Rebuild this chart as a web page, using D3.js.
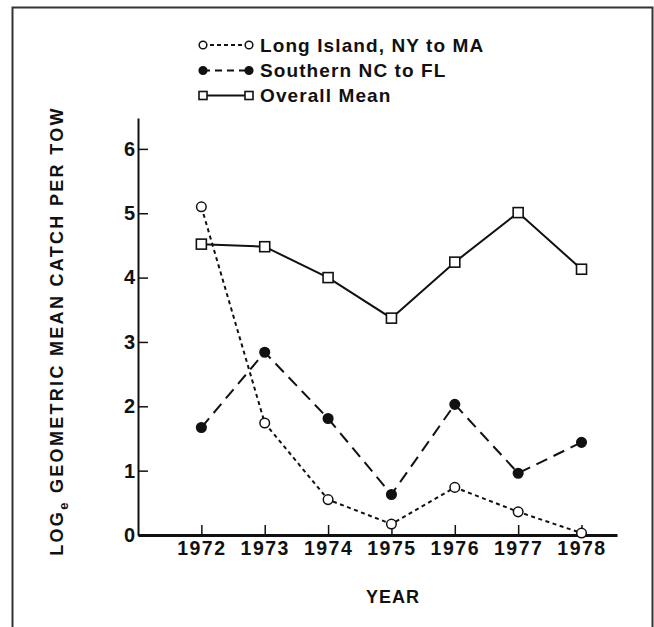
<!DOCTYPE html>
<html><head><meta charset="utf-8">
<script src="https://cdn.jsdelivr.net/npm/d3@7"></script>
<style>body{margin:0;background:#fff}svg{display:block}</style>
</head><body>
<script>
const years = [1972, 1973, 1974, 1975, 1976, 1977, 1978];
const longIsland = [5.1, 1.74, 0.55, 0.17, 0.74, 0.36, 0.03];
const southern = [1.67, 2.84, 1.81, 0.63, 2.03, 0.96, 1.44];
const overall = [4.52, 4.48, 4.0, 3.37, 4.24, 5.01, 4.13];
const yTicks = [0, 1, 2, 3, 4, 5, 6];
const seriesNames = ["Long Island, NY to MA", "Southern NC to FL", "Overall Mean"];

const W = 654, H = 627;
const FONT = "'Liberation Sans', Arial, Helvetica, sans-serif";
const svg = d3.select("body").append("svg").attr("width", W).attr("height", H);

// frame
svg.append("rect").attr("x", 12.5).attr("y", 7.5).attr("width", 640).attr("height", 640)
  .attr("fill", "none").attr("stroke", "#333").attr("stroke-width", 2);

const x = d3.scaleLinear().domain([1971, 1978.56]).range([138, 617]);
const y = d3.scaleLinear().domain([0, 6.48]).range([535, 118]);

// axes
const gx = svg.append("g").attr("transform", `translate(0,${y(0)})`)
  .call(d3.axisBottom(x).tickValues(years).tickFormat(d3.format("d")).tickSizeInner(-10).tickSizeOuter(0).tickPadding(14));
gx.select(".domain").attr("stroke", "#111").attr("stroke-width", 3);
gx.selectAll(".tick line").attr("stroke", "#111").attr("stroke-width", 1.5);
gx.selectAll(".tick text").attr("font-family", FONT).attr("font-size", 19.5).attr("font-weight", "bold")
  .attr("letter-spacing", 1.5).attr("fill", "#111").attr("dy", "0.71em").attr("y", 6);

const gy = svg.append("g").attr("transform", `translate(${x(1971)},0)`)
  .call(d3.axisLeft(y).tickValues(yTicks).tickFormat(d3.format("d")).tickSizeInner(-10).tickSizeOuter(0).tickPadding(4));
gy.select(".domain").attr("stroke", "#111").attr("stroke-width", 2);
gy.selectAll(".tick line").attr("stroke", "#111").attr("stroke-width", 1.5);
gy.selectAll(".tick text").attr("font-family", FONT).attr("font-size", 20).attr("font-weight", "bold")
  .attr("fill", "#111").attr("x", -3);

// axis titles
svg.append("text").attr("x", 393).attr("y", 603).attr("text-anchor", "middle")
  .attr("font-family", FONT).attr("font-size", 18).attr("font-weight", "bold").attr("fill", "#111")
  .attr("letter-spacing", 1).text("YEAR");
const yl = svg.append("text").attr("transform", "translate(63,331) rotate(-90)").attr("text-anchor", "middle")
  .attr("font-family", FONT).attr("font-size", 18).attr("font-weight", "bold").attr("fill", "#111")
  .attr("letter-spacing", 2.3);
yl.append("tspan").text("LOG");
yl.append("tspan").attr("font-size", 13).attr("dy", 5).text("e");
yl.append("tspan").attr("dy", -5).text(" GEOMETRIC MEAN CATCH PER TOW");

const line = d3.line().x((d, i) => x(years[i])).y(d => y(d));
const series = [
  {vals: longIsland, dash: "4,3.5", marker: "open"},
  {vals: southern, dash: "12,7", marker: "filled"},
  {vals: overall, dash: null, marker: "square"}
];

series.forEach(s => {
  svg.append("path").datum(s.vals).attr("d", line).attr("fill", "none")
    .attr("stroke", "#111").attr("stroke-width", 2).attr("stroke-dasharray", s.dash);
});
function drawMarker(g, kind, cx, cy, sc) {
  if (kind === "square") {
    const s = 10 * sc;
    g.append("rect").attr("x", cx - s/2).attr("y", cy - s/2).attr("width", s).attr("height", s)
      .attr("fill", "#fff").attr("stroke", "#111").attr("stroke-width", 1.6);
  } else {
    g.append("circle").attr("cx", cx).attr("cy", cy).attr("r", 4.8 * sc)
      .attr("fill", kind === "filled" ? "#111" : "#fff").attr("stroke", "#111").attr("stroke-width", 1.5);
  }
}
series.forEach(s => {
  const g = svg.append("g");
  s.vals.forEach((v, i) => drawMarker(g, s.marker, x(years[i]), y(v), 1));
});

// legend
const legY = [45, 70.5, 95.5];
series.forEach((s, i) => {
  const g = svg.append("g");
  g.append("line").attr("x1", 203).attr("x2", 249).attr("y1", legY[i]).attr("y2", legY[i])
    .attr("stroke", "#111").attr("stroke-width", 1.8).attr("stroke-dasharray", s.dash ? (i === 0 ? "4,3" : "7,5") : null);
  drawMarker(g, s.marker, 203, legY[i], 0.8);
  drawMarker(g, s.marker, 249, legY[i], 0.8);
  g.append("text").attr("x", 260).attr("y", legY[i]).attr("dy", "0.36em")
    .attr("font-family", FONT).attr("font-size", 19).attr("font-weight", "bold").attr("fill", "#111")
    .attr("letter-spacing", 1.1).text(seriesNames[i]);
});
</script>
</body></html>
